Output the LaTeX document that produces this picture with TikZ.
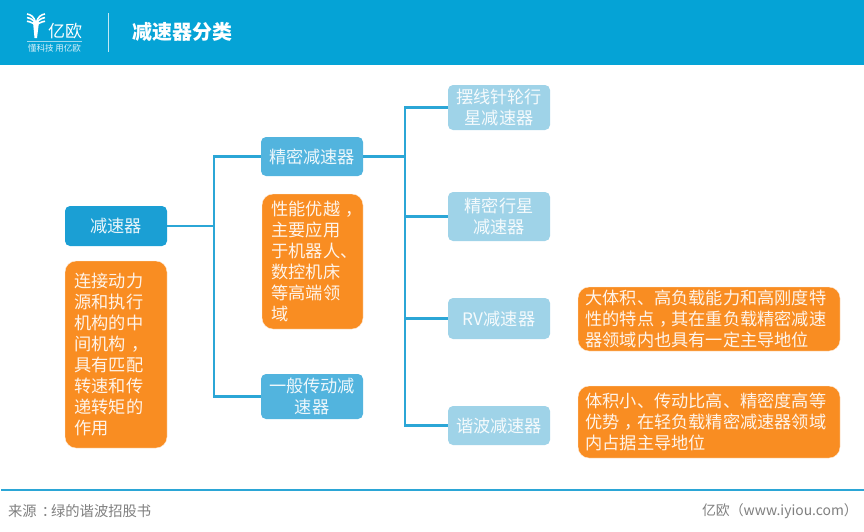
\documentclass[tikz,border=0pt]{standalone}
\usepackage{fontspec}
\newfontfamily\cjk{Noto Sans CJK SC}
\usetikzlibrary{positioning}
\definecolor{headblue}{HTML}{05A3D6}
\definecolor{rootblue}{HTML}{1B9FD4}
\definecolor{midblue}{HTML}{52B4DE}
\definecolor{paleblue}{HTML}{9FD3E8}
\definecolor{noteorange}{HTML}{F98D22}
\definecolor{linkblue}{HTML}{2BA6D6}
\definecolor{srcgray}{HTML}{7F7F7F}
% punctuation sits in the middle of its cell
\newcommand{\midpunct}[1]{\hspace*{5pt}#1\hspace*{-5pt}}
\tikzset{
  box/.style={rounded corners=5pt, text=white, text opacity=0.9, align=center, inner sep=0pt,
    font=\cjk\fontsize{17.2}{21}\selectfont},
  rootbox/.style={box, fill=rootblue},
  midbox/.style={box, fill=midblue},
  palebox/.style={box, fill=paleblue},
  notebox/.style={box, fill=noteorange, draw=white!85!noteorange, align=left, rounded corners=11pt},
  link/.style={draw=linkblue, line width=2.2pt},
  srctext/.style={text=srcgray, inner sep=0pt, font=\cjk\fontsize{14.3}{18}\selectfont}
}
\begin{document}
\begin{tikzpicture}[x=1pt,y=-1pt]
\useasboundingbox (0,0) rectangle (864,531);
% header band
\fill[headblue] (0,0) rectangle (864,65);
\draw[white!75!headblue, line width=0.8pt] (108,13) -- (108,52);
\draw[white!60!headblue, line width=0.5pt] (27,41) -- (82,41);
% logo mark
\fill[white] (33,22) -- (34.5,38) -- (37,38) -- (39,22) -- cycle;
\foreach \r in {0,3.6,7.2}{
  \draw[white, line width=1.6pt] (27,{14+\r}) .. controls (31,{14.5+\r}) and (34,{17+\r}) .. (35.5,{22+\r/3});
  \draw[white, line width=1.6pt] (45,{14+\r}) .. controls (41,{14.5+\r}) and (38,{17+\r}) .. (36.5,{22+\r/3});
}
\node[text=white, inner sep=0pt, font=\cjk\fontsize{17}{17}\selectfont] (brand) at (65,31) {亿欧};
\node[text=white, text opacity=0.85, inner sep=0pt, font=\cjk\fontsize{8.5}{9}\selectfont] (slogan) at (54.5,48) {懂科技 用亿欧};
\node[text=white, inner sep=0pt, font=\cjk\bfseries\fontsize{20}{20}\selectfont] (title) at (182.5,32) {减速器分类};

% boxes
\node[rootbox, minimum width=102pt, minimum height=40pt] (reducer) at (116,226) {减速器};
\node[notebox, minimum width=102pt, minimum height=187pt, text width=83pt] (noteRoot) at (116,354.5)
  {连接动力\\源和执行\\机构的中\\间机构\midpunct{，}\\具有匹配\\转速和传\\递转矩的\\作用};
\node[midbox, minimum width=102pt, minimum height=39pt] (precise) at (312,156.5) {精密减速器};
\node[notebox, minimum width=101pt, minimum height=135pt, text width=82pt] (notePrecise) at (312.5,261.5)
  {性能优越\midpunct{，}\\主要应用\\于机器人、\\数控机床\\等高端领\\域};
\node[midbox, minimum width=102pt, minimum height=45pt] (general) at (312,396.5) {一般传动减\\速器};
\node[palebox, minimum width=102pt, minimum height=45pt] (cyclo) at (499,107.5) {摆线针轮行\\星减速器};
\node[palebox, minimum width=102pt, minimum height=49pt] (planet) at (499,216.5) {精密行星\\减速器};
\node[palebox, minimum width=102pt, minimum height=41pt] (rv) at (499,318.5) {RV减速器};
\node[palebox, minimum width=102pt, minimum height=39pt] (harmonic) at (499,425.5) {谐波减速器};
\node[notebox, minimum width=262pt, minimum height=64pt, text width=247pt] (noteRv) at (709,319)
  {大体积、高负载能力和高刚度特\\性的特点\midpunct{，}其在重负载精密减速\\器领域内也具有一定主导地位};
\node[notebox, minimum width=262pt, minimum height=72pt, text width=247pt] (noteHarm) at (709,422)
  {体积小、传动比高、精密度高等\\优势\midpunct{，}在轻负载精密减速器领域\\内占据主导地位};

% connectors
\coordinate (trunkA) at (214,226);
\coordinate (trunkB) at (405,156.5);
\draw[link] (reducer) -- (trunkA);
\draw[link] (trunkA) |- (precise);
\draw[link] (trunkA) |- (general);
\draw[link] (precise) -- (trunkB);
\draw[link] (trunkB) |- (cyclo);
\draw[link] (trunkB) |- (planet);
\draw[link] (trunkB) |- (rv);
\draw[link] (trunkB) |- (harmonic);

% footer
\draw[link] (1,490) -- (864,490);
\node[srctext, anchor=west] (source) at (8,511) {来源\midpunct{：}绿的谐波招股书};
\node[srctext, anchor=east, font=\cjk\fontsize{13.9}{18}\selectfont] (site) at (858,511) {亿欧（www.iyiou.com）};
\end{tikzpicture}
\end{document}
